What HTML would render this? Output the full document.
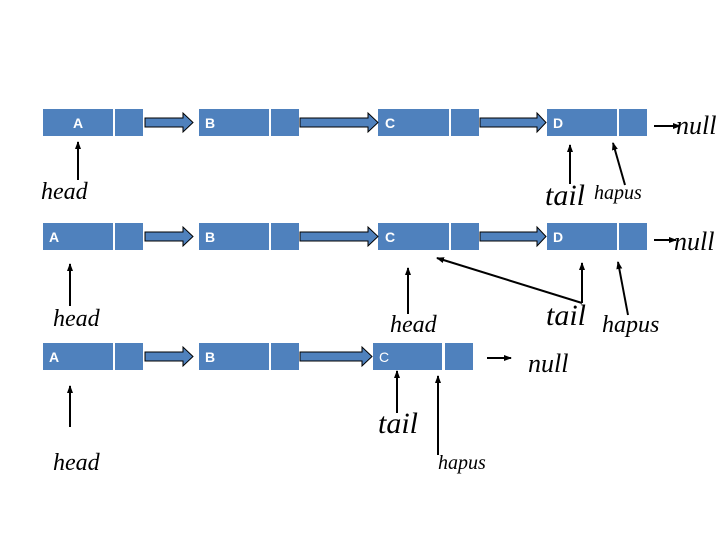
<!DOCTYPE html>
<html><head><meta charset="utf-8"><style>
html,body{margin:0;padding:0;background:#fff;}
svg{display:block;}
.lbl{font-family:"Liberation Sans",sans-serif;font-weight:bold;font-size:14px;fill:#fff;}
.it{font-family:"Liberation Serif",serif;font-style:italic;fill:#000;}
</style></head><body>
<svg width="720" height="540" viewBox="0 0 720 540" xmlns="http://www.w3.org/2000/svg">
<defs>
<marker id="ah" markerWidth="8" markerHeight="8" refX="7" refY="4" orient="auto" markerUnits="userSpaceOnUse">
<path d="M0,1 L8,4 L0,7 Z" fill="#000"/></marker>
</defs>
<g fill="#4f81bd">
<!-- row1 -->
<rect x="43" y="109" width="70" height="27"/><rect x="115" y="109" width="28" height="27"/>
<rect x="199" y="109" width="70" height="27"/><rect x="271" y="109" width="28" height="27"/>
<rect x="378" y="109" width="71" height="27"/><rect x="451" y="109" width="28" height="27"/>
<rect x="547" y="109" width="70" height="27"/><rect x="619" y="109" width="28" height="27"/>
<!-- row2 -->
<rect x="43" y="223" width="70" height="27"/><rect x="115" y="223" width="28" height="27"/>
<rect x="199" y="223" width="70" height="27"/><rect x="271" y="223" width="28" height="27"/>
<rect x="378" y="223" width="71" height="27"/><rect x="451" y="223" width="28" height="27"/>
<rect x="547" y="223" width="70" height="27"/><rect x="619" y="223" width="28" height="27"/>
<!-- row3 -->
<rect x="43" y="343" width="70" height="27"/><rect x="115" y="343" width="28" height="27"/>
<rect x="199" y="343" width="70" height="27"/><rect x="271" y="343" width="28" height="27"/>
<rect x="373" y="343" width="69" height="27"/><rect x="445" y="343" width="28" height="27"/>
</g>
<g fill="#4f81bd" stroke="#000" stroke-width="1">
<path d="M145,118 H183 V113 L193,122.5 L183,132 V127 H145 Z"/>
<path d="M300,118 H368 V113 L378,122.5 L368,132 V127 H300 Z"/>
<path d="M480,118 H537 V113 L546,122.5 L537,132 V127 H480 Z"/>
<path d="M145,232 H183 V227 L193,236.5 L183,246 V241 H145 Z"/>
<path d="M300,232 H368 V227 L378,236.5 L368,246 V241 H300 Z"/>
<path d="M480,232 H537 V227 L546,236.5 L537,246 V241 H480 Z"/>
<path d="M145,352 H183 V347 L193,356.5 L183,366 V361 H145 Z"/>
<path d="M300,352 H362 V347 L372,356.5 L362,366 V361 H300 Z"/>
</g>
<text class="lbl" x="73" y="128">A</text>
<text class="lbl" x="205" y="128">B</text>
<text class="lbl" x="385" y="128">C</text>
<text class="lbl" x="553" y="128">D</text>
<text class="lbl" x="49" y="242">A</text>
<text class="lbl" x="205" y="242">B</text>
<text class="lbl" x="385" y="242">C</text>
<text class="lbl" x="553" y="242">D</text>
<text class="lbl" x="49" y="362">A</text>
<text class="lbl" x="205" y="362">B</text>
<text class="lbl" x="379" y="362" style="font-weight:normal">C</text>
<g stroke="#000" stroke-width="2" fill="none" marker-end="url(#ah)">
<line x1="78" y1="180" x2="78" y2="142"/>
<line x1="570" y1="184" x2="570" y2="145"/>
<line x1="625" y1="185" x2="613" y2="143"/>
<line x1="654" y1="126" x2="680" y2="126"/>
<line x1="70" y1="306" x2="70" y2="264"/>
<line x1="408" y1="314" x2="408" y2="268"/>
<line x1="582" y1="303" x2="582" y2="263"/>
<line x1="582" y1="303" x2="437" y2="258"/>
<line x1="628" y1="315" x2="618" y2="262"/>
<line x1="654" y1="240" x2="676" y2="240"/>
<line x1="70" y1="427" x2="70" y2="386"/>
<line x1="397" y1="413" x2="397" y2="371"/>
<line x1="438" y1="455" x2="438" y2="376"/>
<line x1="487" y1="358" x2="511" y2="358"/>
</g>
<text class="it" x="41" y="199" font-size="24">head</text>
<text class="it" x="545" y="205" font-size="30">tail</text>
<text class="it" x="594" y="199" font-size="20">hapus</text>
<text class="it" x="676" y="134" font-size="26">null</text>
<text class="it" x="674" y="250" font-size="26">null</text>
<text class="it" x="53" y="326" font-size="24">head</text>
<text class="it" x="390" y="332" font-size="24">head</text>
<text class="it" x="546" y="325" font-size="30">tail</text>
<text class="it" x="602" y="332" font-size="24">hapus</text>
<text class="it" x="528" y="372" font-size="26">null</text>
<text class="it" x="378" y="433" font-size="30">tail</text>
<text class="it" x="53" y="470" font-size="24">head</text>
<text class="it" x="438" y="469" font-size="20">hapus</text>
</svg>
</body></html>
